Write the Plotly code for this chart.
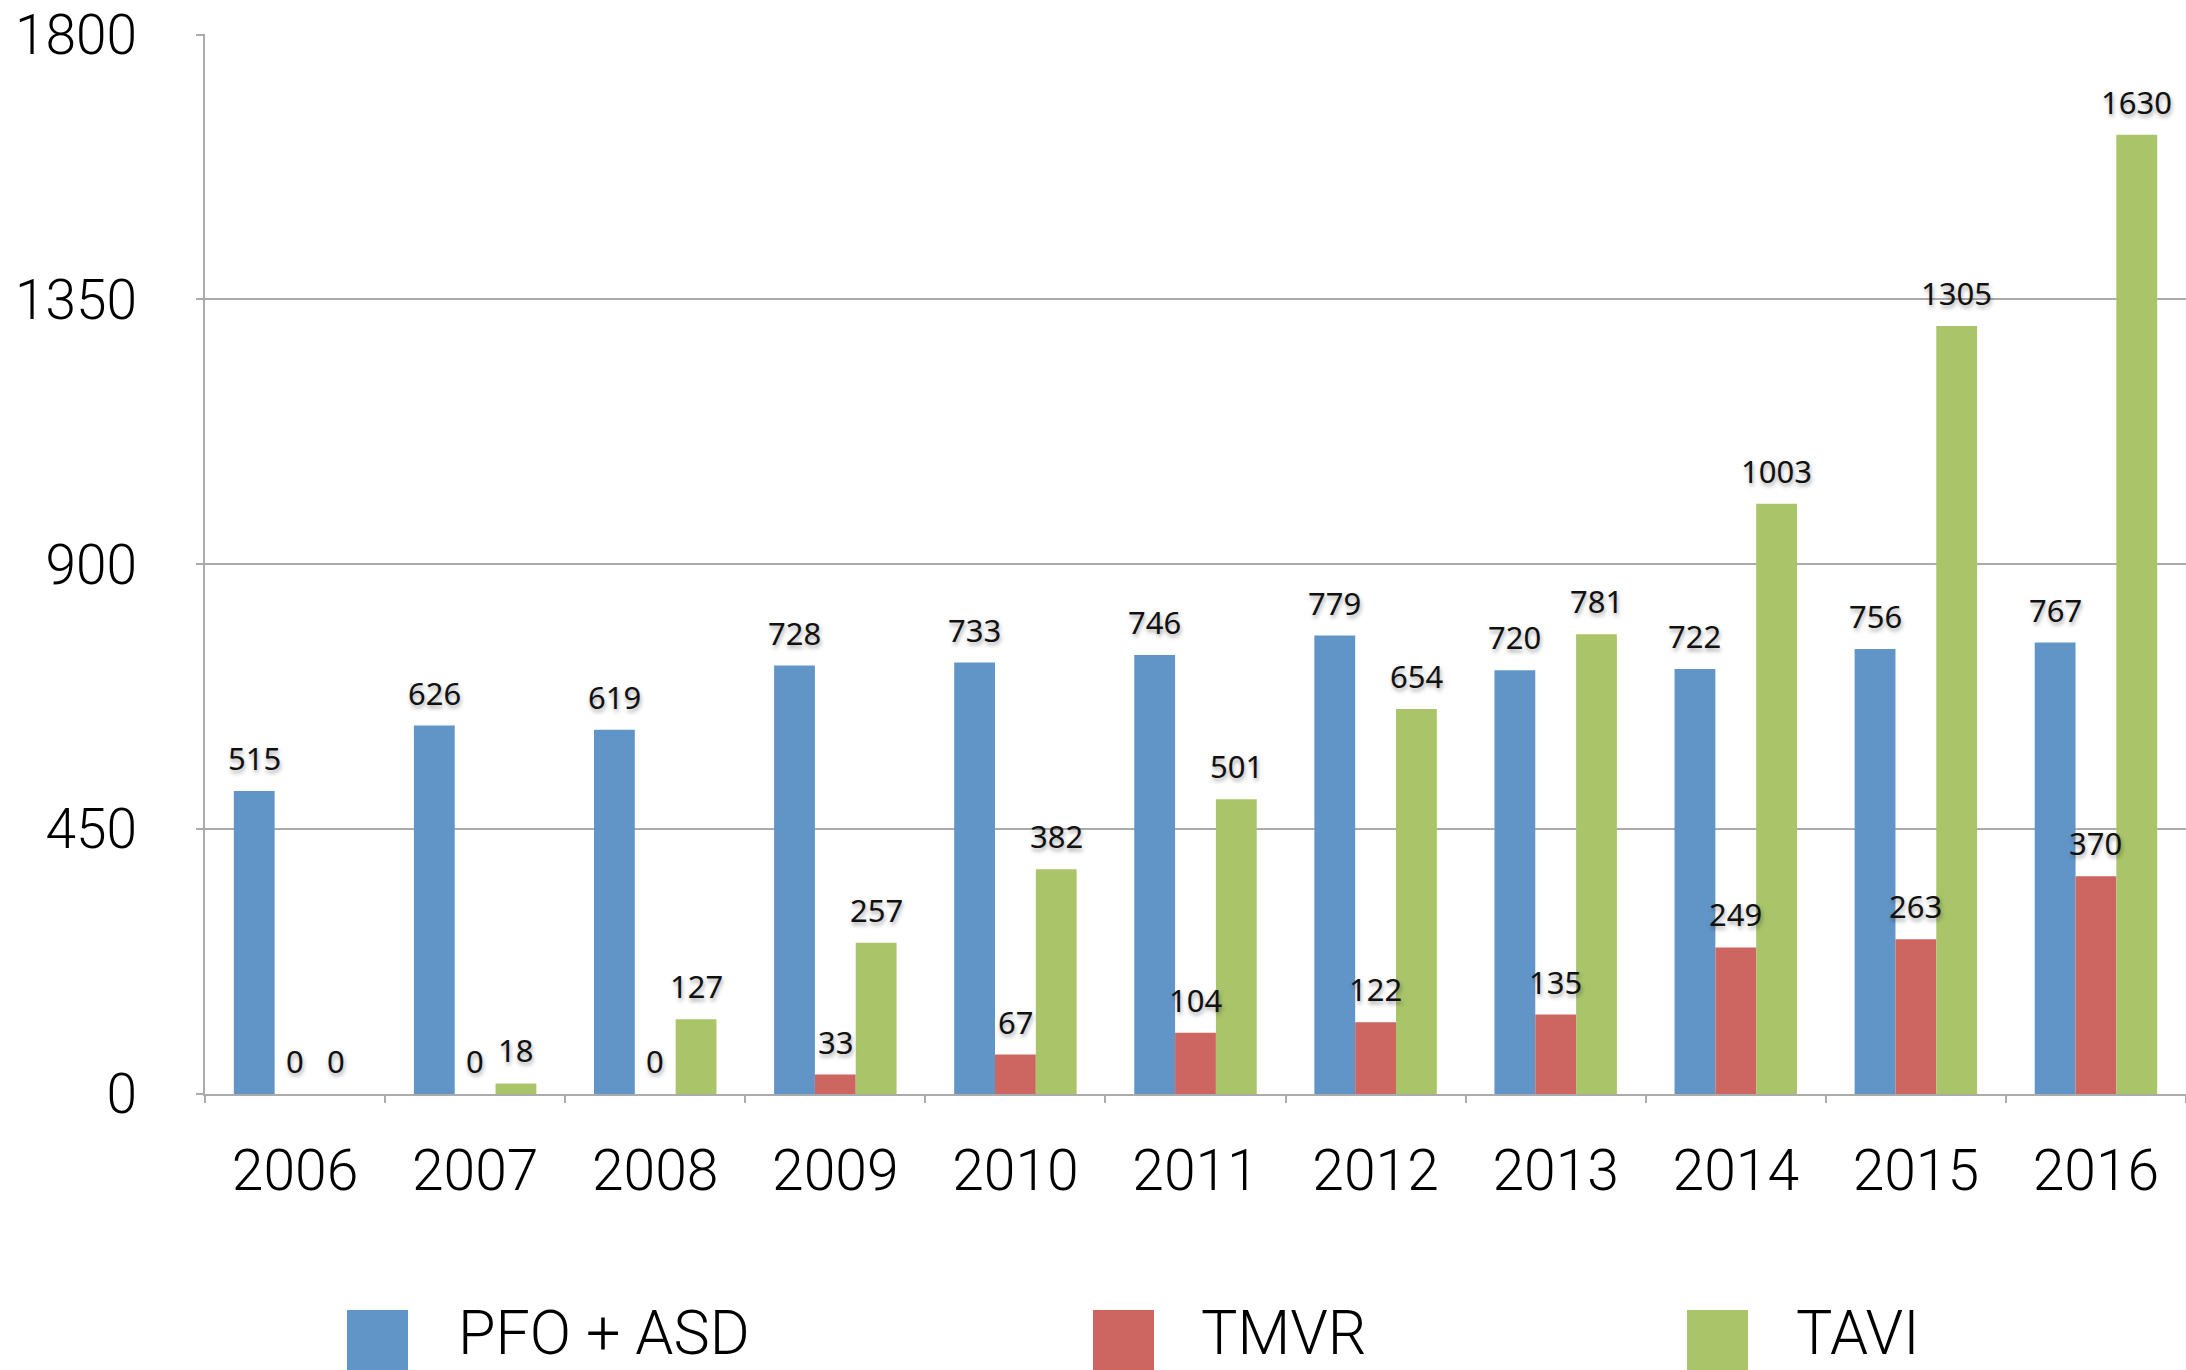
import plotly.graph_objects as go

years = ["2006", "2007", "2008", "2009", "2010", "2011", "2012", "2013", "2014", "2015", "2016"]
series_names = ["PFO + ASD", "TMVR", "TAVI"]
pfo_asd = [515, 626, 619, 728, 733, 746, 779, 720, 722, 756, 767]
tmvr = [0, 0, 0, 33, 67, 104, 122, 135, 249, 263, 370]
tavi = [0, 18, 127, 257, 382, 501, 654, 781, 1003, 1305, 1630]
y_ticks = [0, 450, 900, 1350, 1800]

colors = ["#6195C8", "#CD6660", "#AAC46A"]
series = [pfo_asd, tmvr, tavi]

W, H = 2186, 1370
L, R, T = 205, 0, 34
B = H - 1094
BARGAP = 0.32
Y_MAX = 1801

fig = go.Figure()
for name, vals, col in zip(series_names, series, colors):
    fig.add_trace(go.Bar(x=years, y=vals, name=name, marker=dict(color=col, line=dict(width=0)),
                         showlegend=False))

# data labels above bars
bw = (1 - BARGAP) / 3
annotations = []
for k, vals in enumerate(series):
    off = (k - 1) * bw
    for i, v in enumerate(vals):
        annotations.append(dict(
            x=i + off, y=v, xref="x", yref="y", text=str(v), showarrow=False,
            yanchor="bottom", xanchor="center", yshift=10,
            font=dict(family="Noto Sans", size=31, color="#111111",
                      shadow="1px 3px 4px rgba(0,0,0,0.35)")))

# custom legend (large squares like the original), positions in screen pixels
pw = W - L - R
ph = H - T - B
def px_x(p):
    return (p - L) / pw
def px_y(p):
    return (H - B - p) / ph

legend_items = [(347, 456), (1093, 1199), (1687, 1794)]
shapes = []
for (sx, tx), name, col in zip(legend_items, series_names, colors):
    shapes.append(dict(type="rect", xref="paper", yref="paper",
                       x0=px_x(sx), x1=px_x(sx + 61), y0=px_y(1310), y1=px_y(1372),
                       fillcolor=col, line=dict(width=0)))
    annotations.append(dict(x=px_x(tx), y=px_y(1333), xref="paper", yref="paper",
                            text=name, showarrow=False, xanchor="left", yanchor="middle",
                            font=dict(family="Roboto", size=61, color="#000000", weight=300)))

fig.update_layout(
    width=W, height=H,
    margin=dict(l=L, r=R, t=T, b=B),
    paper_bgcolor="white", plot_bgcolor="white",
    barmode="group", bargap=BARGAP, bargroupgap=0,
    annotations=annotations, shapes=shapes,
    xaxis=dict(type="category", showline=True, linecolor="#ABABAB", linewidth=2,
               ticks="outside", tickson="boundaries", ticklen=7, tickcolor="#ABABAB", tickwidth=2,
               showgrid=False, ticklabelstandoff=26,
               tickfont=dict(family="Roboto", size=57, color="#000000", weight=300)),
    yaxis=dict(range=[0, Y_MAX], tickvals=y_ticks, showline=True, linecolor="#ABABAB", linewidth=2,
               ticks="outside", ticklen=7, tickcolor="#ABABAB", tickwidth=2,
               showgrid=True, gridcolor="#ABABAB", gridwidth=2, zeroline=False,
               ticklabelstandoff=48,
               tickfont=dict(family="Roboto", size=55, color="#000000", weight=300)),
)

fig.write_html("out.html", config={"displayModeBar": False},
               post_script="document.body.style.margin='0';")
